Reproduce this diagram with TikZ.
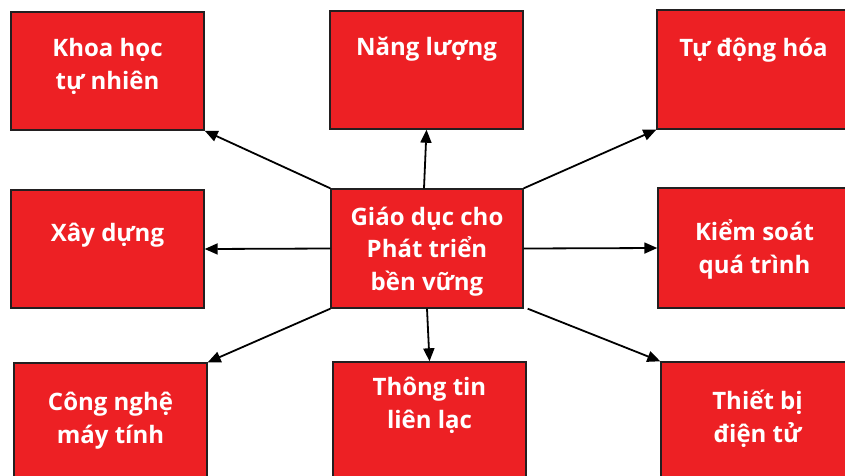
\documentclass[tikz,border=0pt]{standalone}
\usepackage{fontspec}
\setmainfont{Open Sans}
\usetikzlibrary{arrows.meta, positioning}
\definecolor{BoxRed}{HTML}{ED2024}
\definecolor{BoxEdge}{HTML}{231F20}

\tikzset{
    box/.style={draw=BoxEdge, line width=1.4pt, fill=BoxRed, minimum width=193pt, minimum height=118pt, inner sep=0pt},
    txt/.style={white, font=\bfseries\fontsize{24}{32.5}\selectfont, align=center, inner sep=0pt, anchor=base},
    arr/.style={-{Triangle[length=13pt, width=11pt]}, line width=1.8pt, black}
}

\begin{document}
\begin{tikzpicture}[x=1pt, y=-1pt]
    \useasboundingbox (0,0) rectangle (845,475);
    \clip (0,0) rectangle (845,475);

    % Centre box (text anchored on its last baseline)
    \node[box, minimum width=192pt, minimum height=119pt] (center) at (427,248.5) {};
    \node[txt] (centert) at (427,290) {Giáo dục cho\\Phát triển\\bền vững};

    % Top row
    \node[box] (khoa) at (107.5,71) {};
    \node[txt] (khoat) at (107.5,89) {Khoa học\\tự nhiên};
    \node[box] (nang) at (426.5,70) {};
    \node[txt] (nangt) at (426.5,55) {Năng lượng};
    \node[box, minimum height=119pt] (tudong) at (753.5,69.5) {};
    \node[txt] (tudongt) at (753.5,56.5) {Tự động hóa};

    % Middle row
    \node[box] (xay) at (107.5,249) {};
    \node[txt] (xayt) at (107.5,241) {Xây dựng};
    \node[box, minimum height=120pt] (kiem) at (754.5,248) {};
    \node[txt] (kiemt) at (754.5,273) {Kiểm soát\\quá trình};

    % Bottom row
    \node[box] (cong) at (110.5,422) {};
    \node[txt] (congt) at (110.5,443) {Công nghệ\\máy tính};
    \node[box] (thong) at (429.5,421) {};
    \node[txt] (thongt) at (429.5,428) {Thông tin\\liên lạc};
    \node[box] (thiet) at (757.5,421) {};
    \node[txt] (thiett) at (757.5,442) {Thiết bị\\điện tử};

    % Arrows out of the centre
    \draw[arr] (center.north west) -- (khoa.south east);
    \draw[arr] ([xshift=-3pt]center.north) -- (nang.south);
    \draw[arr] (center.north east) -- (tudong.south west);
    \draw[arr] (center.west) -- (xay.east);
    \draw[arr] (center.east) -- (kiem.west);
    \draw[arr] (center.south west) -- (cong.north east);
    \draw[arr] (center.south) -- (thong.north);
    \draw[arr] ([xshift=4pt]center.south east) -- (thiet.north west);

\end{tikzpicture}
\end{document}
